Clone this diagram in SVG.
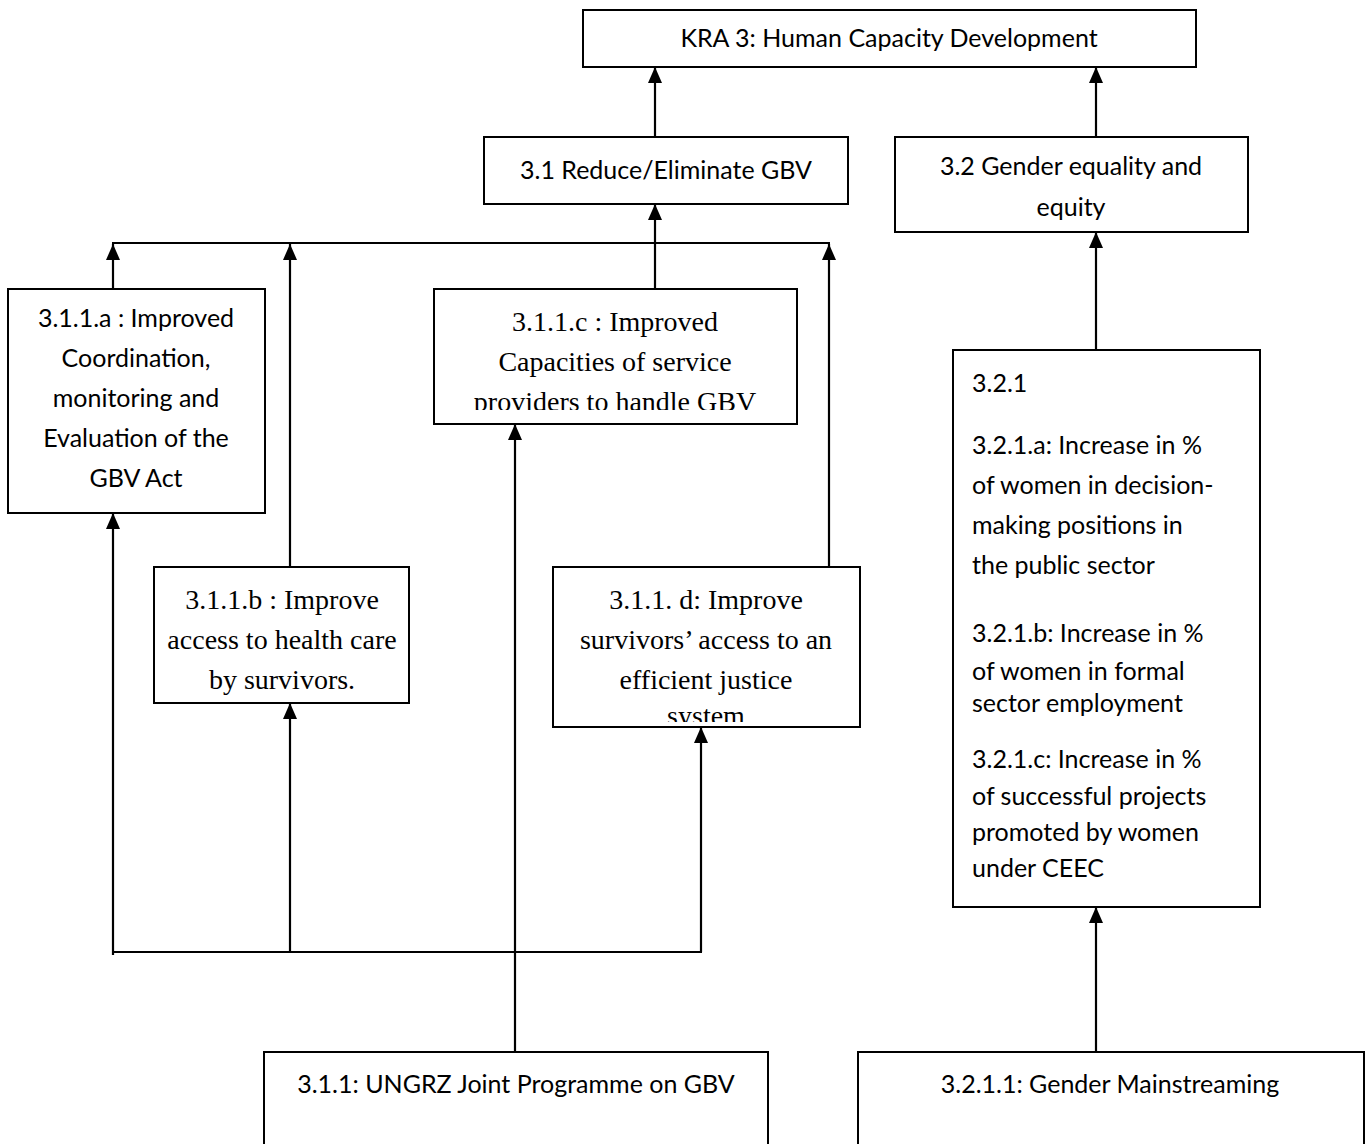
<svg xmlns="http://www.w3.org/2000/svg" width="1368" height="1144" viewBox="0 0 1368 1144">
<style>
.box{fill:#fff;stroke:#000;stroke-width:2}
.c{font-family:Lato,"Liberation Sans",sans-serif;font-size:25px;fill:#000}
.t{font-family:"Liberation Serif","Times New Roman",serif;font-size:28px;fill:#000}
.m{text-anchor:middle}
.ln{fill:none;stroke:#000;stroke-width:2.2}
</style>
<defs>
<marker id="ah" markerUnits="userSpaceOnUse" markerWidth="16" markerHeight="14" refX="16" refY="7" orient="auto"><path d="M0,0 L16,7 L0,14 z" fill="#000"/></marker>
<clipPath id="clipc"><rect x="434" y="289" width="363" height="121"/></clipPath>
<clipPath id="clipd"><rect x="553" y="567" width="307" height="155"/></clipPath>
</defs>
<g id="connectors">
<line class="ln" x1="655" y1="137" x2="655" y2="67" marker-end="url(#ah)"/>
<line class="ln" x1="1096" y1="137" x2="1096" y2="67" marker-end="url(#ah)"/>
<line class="ln" x1="655" y1="289" x2="655" y2="204" marker-end="url(#ah)"/>
<line class="ln" x1="1096" y1="350" x2="1096" y2="232" marker-end="url(#ah)"/>
<line class="ln" x1="1096" y1="1052" x2="1096" y2="907" marker-end="url(#ah)"/>
<line class="ln" x1="112" y1="243" x2="830" y2="243"/>
<line class="ln" x1="113" y1="289" x2="113" y2="244" marker-end="url(#ah)"/>
<line class="ln" x1="290" y1="567" x2="290" y2="244" marker-end="url(#ah)"/>
<line class="ln" x1="829" y1="567" x2="829" y2="244" marker-end="url(#ah)"/>
<line class="ln" x1="112" y1="952" x2="702" y2="952"/>
<line class="ln" x1="113" y1="955" x2="113" y2="513" marker-end="url(#ah)"/>
<line class="ln" x1="290" y1="952" x2="290" y2="703" marker-end="url(#ah)"/>
<line class="ln" x1="701" y1="952" x2="701" y2="727" marker-end="url(#ah)"/>
<line class="ln" x1="515" y1="1052" x2="515" y2="424" marker-end="url(#ah)"/>
</g>
<g id="kra3">
<rect class="box" x="583" y="10" width="613" height="57"/>
<text class="c m" x="889" y="47">KRA 3: Human Capacity Development</text>
</g>
<g id="n31">
<rect class="box" x="484" y="137" width="364" height="67"/>
<text class="c m" x="666" y="179">3.1 Reduce/Eliminate GBV</text>
</g>
<g id="n32">
<rect class="box" x="895" y="137" width="353" height="95"/>
<text class="c m" x="1071" y="175">3.2 Gender equality and</text>
<text class="c m" x="1071" y="216">equity</text>
</g>
<g id="n311a">
<rect class="box" x="8" y="289" width="257" height="224"/>
<text class="c m" x="136" y="327">3.1.1.a : Improved</text>
<text class="c m" x="136" y="367">Coordination,</text>
<text class="c m" x="136" y="407">monitoring and</text>
<text class="c m" x="136" y="447">Evaluation of the</text>
<text class="c m" x="136" y="487">GBV Act</text>
</g>
<g id="n311c">
<rect class="box" x="434" y="289" width="363" height="135"/>
<g clip-path="url(#clipc)">
<text class="t m" x="615" y="331">3.1.1.c : Improved</text>
<text class="t m" x="615" y="371">Capacities of service</text>
<text class="t m" x="615" y="411">providers to handle GBV</text>
</g>
</g>
<g id="n311b">
<rect class="box" x="154" y="567" width="255" height="136"/>
<text class="t m" x="282" y="609">3.1.1.b : Improve</text>
<text class="t m" x="282" y="649">access to health care</text>
<text class="t m" x="282" y="689">by survivors.</text>
</g>
<g id="n311d">
<rect class="box" x="553" y="567" width="307" height="160"/>
<g clip-path="url(#clipd)">
<text class="t m" x="706" y="609">3.1.1. d: Improve</text>
<text class="t m" x="706" y="649">survivors’ access to an</text>
<text class="t m" x="706" y="689">efficient justice</text>
<text class="t m" x="706" y="725">system</text>
</g>
</g>
<g id="n321">
<rect class="box" x="953" y="350" width="307" height="557"/>
<text class="c" x="972" y="392">3.2.1</text>
<text class="c" x="972" y="454">3.2.1.a: Increase in %</text>
<text class="c" x="972" y="494">of women in decision-</text>
<text class="c" x="972" y="534">making positions in</text>
<text class="c" x="972" y="574">the public sector</text>
<text class="c" x="972" y="642">3.2.1.b: Increase in %</text>
<text class="c" x="972" y="680">of women in formal</text>
<text class="c" x="972" y="712">sector employment</text>
<text class="c" x="972" y="768">3.2.1.c:  Increase in %</text>
<text class="c" x="972" y="805">of successful projects</text>
<text class="c" x="972" y="841">promoted by women</text>
<text class="c" x="972" y="877">under CEEC</text>
</g>
<g id="n311">
<rect class="box" x="264" y="1052" width="504" height="110"/>
<text class="c m" x="516" y="1093">3.1.1: UNGRZ Joint Programme on GBV</text>
</g>
<g id="n3211">
<rect class="box" x="858" y="1052" width="506" height="110"/>
<text class="c m" x="1110" y="1093">3.2.1.1: Gender Mainstreaming</text>
</g>
</svg>
